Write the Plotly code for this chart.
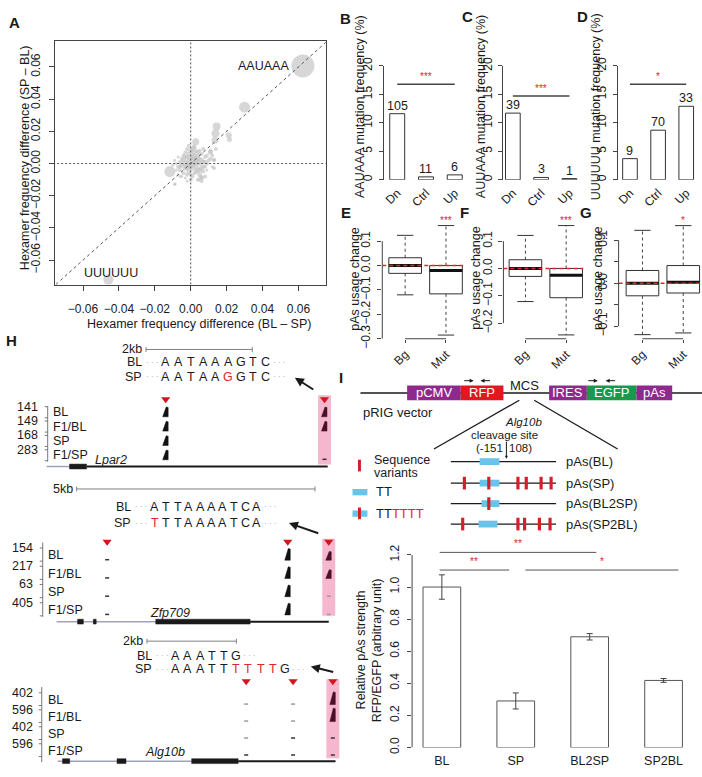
import plotly.graph_objects as go

W, H = 702, 777
FONT = "Liberation Sans, Arial, Helvetica, sans-serif"
INK = "#1a1a1a"
AXC = "#444444"
SIGRED = "#E0262B"
PTC = "rgb(198,198,198)"
PURPLE = "#8E2A8E"
BOXRED = "#E3171F"
GREEN = "#18994B"
SKY = "#6CC3EA"
VARRED = "#D21F2A"
PINK = "#F5B6CE"
MAROON = "#4B1028"
TRIRED = "#D7141E"
INTRON = "#A0A2BC"

# ======================= DATA =======================
# Panel A: hexamer frequency differences
hex_named_labels = ["AAUAAA", "UUUUUU"]
hex_named_x = [0.0625, -0.0459]
hex_named_y = [0.0606, -0.0721]
hex_named_size = [23, 10]
hex_mid_x = [0.030, 0.0144, 0.0138, 0.0135, 0.0212, 0.0216, -0.0116, 0.0028, 0.0018, 0.011, 0.013, 0.013, 0.006, 0.0046, -0.0087]
hex_mid_y = [0.035, 0.023, 0.0186, 0.0145, 0.0176, 0.015, -0.005, 0.0135, 0.0105, 0.0075, 0.0024, -0.0026, -0.0087, -0.010, -0.0127]
hex_mid_size = [11, 8, 8, 7, 6, 5, 11, 7, 5, 4, 4, 3, 4, 3, 3]
# (x, y) in thousandths, marker size
hex_cluster_milli = [
    (-7, -2, 4), (-6, 1, 4), (-6, -4, 4), (-5, 3, 4), (-5, -1, 5), (-4, -6, 4), (-4, 2, 5), (-4, 5, 4),
    (-3, -3, 5), (-3, 0, 6), (-3, 7, 4), (-2, 4, 5), (-2, -2, 6), (-2, 9, 4), (-1, 1, 6), (-1, -5, 5),
    (-1, 6, 5), (0, 3, 6), (0, -1, 6), (0, 8, 5), (0, -7, 4), (1, 2, 6), (1, -3, 5), (1, 5, 5),
    (2, 0, 6), (2, 7, 5), (2, -6, 4), (3, 3, 5), (3, -2, 5), (3, 1, 6), (4, -4, 5), (4, 5, 5),
    (4, 2, 4), (5, 0, 5), (5, -7, 5), (5, 3, 4), (6, -3, 5), (6, 6, 4), (6, -9, 5), (7, 1, 5),
    (7, -5, 4), (8, 4, 4), (8, -2, 4), (9, 0, 4), (10, 2, 4), (-9, -13, 3), (-8, 0, 3), (-9, 2, 3),
    (-10, -1, 3), (-7, 4, 3), (-6, -8, 3), (-3, -9, 3), (4, -10, 4), (6, -11, 4), (8, -8, 4), (2, 10, 4),
    (-1, 11, 4), (3, 8, 4), (9, 5, 4), (11, 7, 5), (12, 5, 4), (11, 3, 4), (12, -2, 3), (13, 2, 4),
    (11, 8, 4), (14, 9, 4), (13, -3, 3), (-5, -8, 3), (-2, -11, 3), (0, -10, 4), (5, 8, 4), (7, 9, 4),
    (-8, -4, 3), (-7, -7, 3), (-2, -7, 4), (1, -8, 4), (3, -5, 5), (5, -4, 5), (7, -2, 4), (8, 1, 4),
    (4, 7, 4), (1, 9, 4), (-3, 4, 5), (-6, -2, 4), (2, 4, 6), (-1, -2, 6), (6, 2, 5), (9, -4, 3),
]
a_ticks = [-0.06, -0.04, -0.02, 0.0, 0.02, 0.04, 0.06]

# Panels B-D: mutation frequencies (%)
mut_groups = ["Dn", "Ctrl", "Up"]
aauaaa_pct = [11.6, 0.5, 0.85]
aauaaa_count = [105, 11, 6]
auuaaa_pct = [11.7, 0.4, 0.2]
auuaaa_count = [39, 3, 1]
uuuuuu_pct = [3.7, 8.7, 12.9]
uuuuuu_count = [9, 70, 33]
mut_titles = ["AAUAAA mutation frequency (%)", "AUUAAA mutation frequency (%)", "UUUUUU mutation frequency (%)"]
mut_signif = ["***", "***", "*"]
mut_sig_level = [16.75, 14.7, 16.75]
mut_ticks = [0, 5, 10, 15, 20]

# Panels E-G: pAs usage change (box statistics)
box_groups = ["Bg", "Mut"]
e_q1 = [-0.032, -0.116]; e_med = [0.0, -0.02]; e_q3 = [0.032, 0.0]; e_lo = [-0.12, -0.285]; e_hi = [0.124, 0.164]
f_q1 = [-0.029, -0.107]; f_med = [0.0, -0.025]; f_q3 = [0.032, 0.0]; f_lo = [-0.121, -0.243]; f_hi = [0.121, 0.157]
g_q1 = [-0.0295, -0.023]; g_med = [0.0, 0.002]; g_q3 = [0.0295, 0.041]; g_lo = [-0.12, -0.116]; g_hi = [0.123, 0.134]
usage_signif = ["***", "***", "*"]
e_ticks = [-0.3, -0.2, -0.1, 0.0, 0.1]
f_ticks = [-0.2, -0.1, 0.0, 0.1]
g_ticks = [-0.1, -0.05, 0.0, 0.05, 0.1]
g_ticklabels = ["−0.1", "", "0.0", "", "0.1"]

# Panel I: reporter assay
constructs = ["BL", "SP", "BL2SP", "SP2BL"]
pas_strength = [1.0, 0.29, 0.69, 0.418]
pas_strength_err = [0.076, 0.05, 0.02, 0.012]
cmp_from = [0.97, 0.97, 2.13]
cmp_to = [3.09, 1.91, 4.2]
cmp_level = [1.216, 1.106, 1.106]
cmp_signif = ["**", "**", "*"]
i_ticks = [0.0, 0.2, 0.4, 0.6, 0.8, 1.0, 1.2]

# Panel I: vector / constructs schematic
vector_parts = ["pCMV", "RFP", "IRES", "EGFP", "pAs"]
construct_names = ["pAs(BL)", "pAs(SP)", "pAs(BL2SP)", "pAs(SP2BL)"]
construct_variants = [[], [0.129, 0.361, 0.638, 0.717, 0.858, 0.953], [0.361], [0.113, 0.638, 0.701, 0.842, 0.943]]
construct_tt = [(0.274, 0.462), (0.274, 0.462), (0.292, 0.462), (0.264, 0.443)]

# Panel H: genome tracks (positions in kb from gene start); heights: fraction of track, <0.15 = flat signal
track_names = ["BL", "F1/BL", "SP", "F1/SP"]
lpar2 = dict(name="Lpar2", reads=[141, 149, 168, 283], intron=[0, 0.43], exons=[[0.43, 0.75]], utr=[0.75, 5.29],
             sites=[2.24, 5.23], heights=[[0.68, 0.68], [0.68, 0.68], [0.68, 0.0], [0.68, 0.05]],
             bl_seq="AATAAAGTC", sp_seq="AATAAGGTC", sp_red=[5], scale_kb=2, scale_at=1.87)
zfp709 = dict(name="Zfp709", reads=[154, 217, 63, 405], intron=[0, 2.08], exons=[[0.44, 0.56], [0.77, 0.83], [2.08, 4.06]],
              utr=[4.06, 5.71], sites=[1.06, 4.85, 5.71],
              heights=[[0.05, 0.64, 0.48], [0.05, 0.64, 0.48], [0.05, 0.64, 0.03], [0.05, 0.64, 0.03]],
              bl_seq="ATTAAAATCA", sp_seq="TTTAAAATCA", sp_red=[0], scale_kb=5, scale_at=0.42)
alg10b = dict(name="Alg10b", reads=[402, 596, 402, 596], intron=[0, 3.0], exons=[[0.11, 0.27], [1.33, 1.53], [3.0, 4.04]],
              utr=[4.04, 6.22], sites=[4.22, 5.27, 6.16],
              heights=[[0.03, 0.03, 0.75], [0.03, 0.03, 0.8], [0.03, 0.05, 0.05], [0.05, 0.05, 0.05]],
              bl_seq="AAATTG", sp_seq="AAATTTTTTG", sp_red=[5, 6, 7, 8], scale_kb=2, scale_at=2.0)

# ======================= HELPERS =======================
def domx(a, b):
    return [a / W, b / W]


def domy(top, bot):
    return [1 - bot / H, 1 - top / H]


def mfmt(v, nd):
    s = f"{v:.{nd}f}"
    return s.replace("-", "−")


fig = go.Figure()
ann, shp = [], []


def T(x, y, s, size=12, color=INK, xa="center", ya="middle", angle=0, xref="x13", yref="y13"):
    ann.append(dict(x=x, y=y, xref=xref, yref=yref, text=s, showarrow=False,
                    font=dict(family=FONT, size=size, color=color),
                    xanchor=xa, yanchor=ya, textangle=angle, borderpad=0))


def seg(xs, ys, color=INK, width=1, dash="solid", ax="x13", ay="y13"):
    fig.add_trace(go.Scatter(x=xs, y=ys, mode="lines", line=dict(color=color, width=width, dash=dash),
                             xaxis=ax, yaxis=ay, hoverinfo="skip"))


def poly(xs, ys, color, ax="x13", ay="y13"):
    fig.add_trace(go.Scatter(x=xs, y=ys, mode="lines", fill="toself", fillcolor=color,
                             line=dict(color=color, width=0.5), xaxis=ax, yaxis=ay, hoverinfo="skip"))


def arrow(hx, hy, tx, ty, width=2, size=1.0):
    ann.append(dict(x=hx, y=hy, ax=tx, ay=ty, xref="x13", yref="y13", axref="x13", ayref="y13",
                    showarrow=True, arrowhead=2, arrowsize=size, arrowwidth=width, arrowcolor=INK,
                    text="", standoff=0, startstandoff=0))


def ax_base(**kw):
    d = dict(showgrid=False, zeroline=False, showline=False, ticks="", showticklabels=False, fixedrange=True)
    d.update(kw)
    return d


TICKS = dict(ticks="outside", ticklen=4, tickwidth=1, tickcolor=AXC, showticklabels=True,
             tickfont=dict(family=FONT, size=12, color=INK))
lay = {}

# ======================= PANEL A =======================
lay["xaxis"] = ax_base(domain=domx(50, 323), range=[-0.0758, 0.0752], anchor="y", showline=True, mirror=True,
                       linecolor=AXC, linewidth=1, tickvals=a_ticks, ticktext=[mfmt(v, 2) for v in a_ticks],
                       ticklabelstandoff=8, **{**TICKS, "ticklen": 5})
lay["yaxis"] = ax_base(domain=domy(33, 283), range=[-0.0755, 0.076], anchor="x", showline=True, mirror=True,
                       linecolor=AXC, linewidth=1, tickvals=a_ticks, ticktext=[mfmt(v, 2) for v in a_ticks],
                       tickangle=-90, ticklabelstandoff=4, **{**TICKS, "ticklen": 5})
cx = [p[0] / 1000 for p in hex_cluster_milli] + hex_mid_x + hex_named_x
cy = [p[1] / 1000 for p in hex_cluster_milli] + hex_mid_y + hex_named_y
cs = [p[2] for p in hex_cluster_milli] + hex_mid_size + hex_named_size
fig.add_trace(go.Scatter(x=cx, y=cy, mode="markers", marker=dict(color=PTC, size=cs, line=dict(width=0)),
                         xaxis="x", yaxis="y", hoverinfo="skip"))
seg([-0.09, 0.09], [-0.09, 0.09], color="#555", width=1, dash="3px,3px", ax="x", ay="y")
seg([0, 0], [-0.09, 0.09], color="#555", width=1, dash="2px,2px", ax="x", ay="y")
seg([-0.09, 0.09], [0, 0], color="#555", width=1, dash="2px,2px", ax="x", ay="y")
T(hex_named_x[0] - 0.007, hex_named_y[0], hex_named_labels[0], size=12.5, xa="right", xref="x", yref="y")
T(hex_named_x[1] + 0.0017, hex_named_y[1] + 0.0038, hex_named_labels[1], size=12.5, xref="x", yref="y")
T(195, 323, "Hexamer frequency difference (BL – SP)", size=12.5)
T(20, 152, "Hexamer frequency difference (SP – BL)", size=12.5, angle=-90)

# ======================= PANELS B-D =======================
bar_sets = [(aauaaa_pct, aauaaa_count), (auuaaa_pct, auuaaa_count), (uuuuuu_pct, uuuuuu_count)]
bar_geom = [dict(xl=382, xr_px=466, xr=[0.55, 3.45], title_x=357),
            dict(xl=502, xr_px=585, xr=[0.667, 3.58], title_x=479),
            dict(xl=617, xr_px=700, xr=[0.56, 3.49], title_x=595)]
for i, ((vals, cnts), g) in enumerate(zip(bar_sets, bar_geom)):
    n = 2 + i
    lay[f"xaxis{n}"] = ax_base(domain=domx(g["xl"], g["xr_px"]), range=g["xr"], anchor=f"y{n}",
                               tickvals=[1, 2, 3], ticktext=mut_groups, tickangle=-45, showticklabels=True,
                               ticklabelstandoff=3, tickfont=dict(family=FONT, size=12, color=INK))
    lay[f"yaxis{n}"] = ax_base(domain=domy(58.3, 175), range=[0, 20], anchor=f"x{n}", showline=True,
                               linecolor=AXC, linewidth=1, tickvals=mut_ticks, ticktext=[str(v) for v in mut_ticks],
                               tickangle=-90, ticklabelstandoff=2, **TICKS)
    fig.add_trace(go.Bar(x=[1, 2, 3], y=vals, width=0.52,
                         marker=dict(color="white", line=dict(color="#333", width=1)),
                         xaxis=f"x{n}", yaxis=f"y{n}", hoverinfo="skip"))
    for j in range(3):
        T(j + 1, vals[j], str(cnts[j]), size=12.5, ya="bottom", xref=f"x{n}", yref=f"y{n}")
    seg([1, 3], [mut_sig_level[i]] * 2, color="#444", width=1.5, ax=f"x{n}", ay=f"y{n}")
    T(2, mut_sig_level[i] + 1.3, mut_signif[i], size=10, color=SIGRED, xref=f"x{n}", yref=f"y{n}")
    T(g["title_x"], 100, mut_titles[i], size=12.5, angle=-90)

# ======================= PANELS E-G =======================
usage_sets = [(e_q1, e_med, e_q3, e_lo, e_hi), (f_q1, f_med, f_q3, f_lo, f_hi), (g_q1, g_med, g_q3, g_lo, g_hi)]
usage_ticks = [(e_ticks, [mfmt(v, 1) for v in e_ticks]), (f_ticks, [mfmt(v, 1) for v in f_ticks]),
               (g_ticks, g_ticklabels)]
box_geom = [dict(xl=380, xr_px=468, xr=[0.44, 2.58], yr=[-0.3, 0.192], title_x=353),
            dict(xl=502, xr_px=589, xr=[0.46, 2.58], yr=[-0.257, 0.182], title_x=475),
            dict(xl=618, xr_px=702, xr=[0.415, 2.46], yr=[-0.1295, 0.15], title_x=597)]
for i, ((q1, med, q3, lo, hi), (tv, tt), g) in enumerate(zip(usage_sets, usage_ticks, box_geom)):
    n = 5 + i
    xa, ya = f"x{n}", f"y{n}"
    lay[f"xaxis{n}"] = ax_base(domain=domx(g["xl"], g["xr_px"]), range=g["xr"], anchor=ya,
                               tickvals=[1, 2], ticktext=box_groups, tickangle=-45, ticklabelstandoff=0,
                               **{**TICKS, "ticklen": 3})
    lay[f"yaxis{n}"] = ax_base(domain=domy(215, 338), range=g["yr"], anchor=xa, tickvals=tv, ticktext=tt,
                               tickangle=-90, ticklabelstandoff=2, **TICKS)
    shp.append(dict(type="line", xref="paper", yref=ya, x0=g["xl"] / W, x1=g["xl"] / W, y0=min(tv), y1=max(tv),
                    line=dict(color=AXC, width=1)))
    shp.append(dict(type="line", xref=xa, yref="paper", x0=1, x1=2, y0=1 - 338 / H, y1=1 - 338 / H,
                    line=dict(color=AXC, width=1)))
    sx, sy, wx, wy, mx, my = [], [], [], [], [], []
    for k in range(2):
        c = k + 1
        sx += [c - 0.4, c + 0.4, c + 0.4, c - 0.4, c - 0.4, None, c - 0.2, c + 0.2, None, c - 0.2, c + 0.2, None]
        sy += [q1[k], q1[k], q3[k], q3[k], q1[k], None, hi[k], hi[k], None, lo[k], lo[k], None]
        wx += [c, c, None, c, c, None]
        wy += [q3[k], hi[k], None, q1[k], lo[k], None]
        mx += [c - 0.4, c + 0.4, None]
        my += [med[k], med[k], None]
    seg(wx, wy, color="#444", width=1, dash="3px,3px", ax=xa, ay=ya)
    seg(sx, sy, color="#333", width=1, ax=xa, ay=ya)
    seg(mx, my, color="#111", width=3, ax=xa, ay=ya)
    seg([g["xr"][0], 2.42], [0, 0], color="#E8262B", width=1.5, dash="4px,3px", ax=xa, ay=ya)
    T(2, 217, usage_signif[i], size=10, color=SIGRED, xref=xa, yref="y13")
    T(g["title_x"], 276, "pAs usage change", size=12.5, angle=-90)

# ======================= PANEL I (bars) =======================
lay["xaxis12"] = ax_base(domain=domx(410, 702), range=[0.597, 4.52], anchor="y12", tickvals=[1, 2, 3, 4],
                         ticktext=constructs, showticklabels=True, ticklabelstandoff=4,
                         tickfont=dict(family=FONT, size=12.5, color=INK))
lay["yaxis12"] = ax_base(domain=domy(545, 757), range=[0, 1.289], anchor="x12", tickvals=i_ticks,
                         ticktext=[f"{v:.1f}" for v in i_ticks], tickangle=-90, ticklabelstandoff=3, **TICKS)
shp.append(dict(type="line", xref="paper", yref="y12", x0=410 / W, x1=410 / W, y0=0, y1=1.2,
                line=dict(color=AXC, width=1)))
fig.add_trace(go.Bar(x=[1, 2, 3, 4], y=pas_strength, width=0.51,
                     marker=dict(color="white", line=dict(color="#555", width=1)),
                     error_y=dict(type="data", array=pas_strength_err, visible=True, color="#444", thickness=1, width=3),
                     xaxis="x12", yaxis="y12", hoverinfo="skip"))
for a, b, lv, s in zip(cmp_from, cmp_to, cmp_level, cmp_signif):
    seg([a, b], [lv, lv], color="#555", width=1, ax="x12", ay="y12")
    T((a + b) / 2, lv + 0.055, s, size=10, color=SIGRED, xref="x12", yref="y12")
T(358, 657, "Relative pAs strength", size=12.5, angle=-90)
T(375, 657, "RFP/EGFP (arbitrary unit)", size=12.5, angle=-90)

# ======================= OVERLAY AXIS (schematics, text) =======================
lay["xaxis13"] = ax_base(domain=[0, 1], range=[0, W], anchor="y13")
lay["yaxis13"] = ax_base(domain=[0, 1], range=[H, 0], anchor="x13")

# ---------- Panel H ----------
gene_data = [lpar2, zfp709, alg10b]
gene_geom = [
    dict(x0=42, ppk=53.5, base=418, step=14.7, gene_y=469, tri_y=400, pink_y=(396, 467), axis_x=43,
         axis_y=(407, 464), num_right=34, num_off=10.3, name_x=47, name_off=4.5, gname=(107, 462),
         scale_y=349, seq_y=(362, 377), seq_first=162, seq_step=12.6, arrow=((292, 378), (312, 391))),
    dict(x0=52, ppk=48, base=565, step=18.7, gene_y=628, tri_y=546, pink_y=(543, 622), axis_x=38,
         axis_y=(547, 623), num_right=29, num_off=12.5, name_x=42, name_off=5, gname=(166, 619),
         scale_y=492, seq_y=(510, 527), seq_first=151, seq_step=11.4, arrow=((286, 527), (317, 538))),
    dict(x0=53, ppk=45, base=713, step=17.4, gene_y=771, tri_y=689, pink_y=(687, 768), axis_x=37,
         axis_y=(695, 772), num_right=29, num_off=12, name_x=42, name_off=4.5, gname=(161, 762),
         scale_y=648, seq_y=(663, 677), seq_first=172, seq_step=12.2, arrow=((308, 674), (332, 680))),
]
blk_x, blk_y, mar_x, mar_y, dsh_x, dsh_y, lds_x, lds_y, tri_x, tri_y = [], [], [], [], [], [], [], [], [], []
for d, g in zip(gene_data, gene_geom):
    def kx(kb, g=g):
        return g["x0"] + kb * g["ppk"]
    # pink highlight
    ps = kx(d["sites"][-1])
    shp.append(dict(type="rect", xref="x13", yref="y13", x0=ps - 6.5, x1=ps + 6.5, y0=g["pink_y"][0],
                    y1=g["pink_y"][1], fillcolor=PINK, line=dict(width=0), layer="below"))
    # scale bar
    s0, s1 = kx(d["scale_at"]), kx(d["scale_at"] + d["scale_kb"])
    sy0 = g["scale_y"]
    seg([s0, s1, None, s0, s0, None, s1, s1], [sy0, sy0, None, sy0 - 2.5, sy0 + 2.5, None, sy0 - 2.5, sy0 + 2.5],
        color="#808080", width=1)
    T(s0 - 3, sy0, f"{d['scale_kb']}kb", size=12.5, xa="right")
    # sequences
    for row, (lab, sq, reds) in enumerate([("BL", d["bl_seq"], []), ("SP", d["sp_seq"], d["sp_red"])]):
        yy = g["seq_y"][row]
        f0, st = g["seq_first"], g["seq_step"]
        T(f0 - 23, yy, lab, size=12.5, xa="right")
        T(f0 - 14, yy, "· · ·", size=8, color="#999")
        for j, ch in enumerate(sq):
            T(f0 + j * st, yy, ch, size=12.5, color=SIGRED if j in reds else INK)
        T(f0 + (len(sq) - 1) * st + 13, yy, "· · ·", size=8, color="#999")
    (hx, hy), (tx, ty) = g["arrow"]
    arrow(hx, hy, tx, ty, width=2, size=0.9)
    # read-count axis and track labels
    axx = g["axis_x"]
    tx_, ty_ = [axx, axx, None], [g["axis_y"][0], g["axis_y"][1], None]
    for k in range(4):
        b = g["base"] + k * g["step"]
        top = b - g["num_off"]
        tx_ += [axx - 3, axx, None, axx - 3, axx, None]
        ty_ += [top, top, None, b + 1, b + 1, None]
        T(g["num_right"], top, str(d["reads"][k]), size=12.5, xa="right")
        T(g["name_x"], b - g["name_off"], track_names[k], size=12.5, xa="left")
    seg(tx_, ty_, color="#777", width=1)
    # gene model
    gy = g["gene_y"]
    seg([kx(d["intron"][0]), kx(d["intron"][1])], [gy, gy], color=INTRON, width=1.5)
    seg([kx(d["utr"][0]), kx(d["utr"][1])], [gy, gy], color=INK, width=2)
    ex, ey = [], []
    for a, b in d["exons"]:
        ex += [kx(a), kx(b), kx(b), kx(a), kx(a), None]
        ey += [gy - 2.5, gy - 2.5, gy + 2.5, gy + 2.5, gy - 2.5, None]
    poly(ex, ey, INK)
    T(g["gname"][0], g["gname"][1], f"<i>{d['name']}</i>", size=12.5)
    # peaks
    last = len(d["sites"]) - 1
    for j, s in enumerate(d["sites"]):
        x = kx(s)
        tri_x.append(x)
        tri_y.append(g["tri_y"])
        for k in range(4):
            b = g["base"] + k * g["step"]
            h = d["heights"][k][j]
            if h >= 0.15:
                hp = h * g["step"]
                px_ = [x - 3, x - 1.5, x + 0.5, x + 2.5, x + 2.5, x - 3, None]
                py_ = [b, b - 0.5 * hp, b - hp, b - 0.95 * hp, b, b, None]
                if j == last:
                    mar_x += px_; mar_y += py_
                else:
                    blk_x += px_; blk_y += py_
            elif h >= 0.04:
                dsh_x += [x - 2, x + 2, None]
                dsh_y += [b - 0.5, b - 0.5, None]
            elif h > 0:
                lds_x += [x - 2, x + 2, None]
                lds_y += [b - 0.5, b - 0.5, None]
poly(blk_x, blk_y, "#111111")
poly(mar_x, mar_y, MAROON)
seg(dsh_x, dsh_y, color="#333", width=1.5)
seg(lds_x, lds_y, color="#9a9a9a", width=1.5)
fig.add_trace(go.Scatter(x=tri_x, y=tri_y, mode="markers", xaxis="x13", yaxis="y13", hoverinfo="skip",
                         marker=dict(symbol="triangle-down", size=8, color=TRIRED, line=dict(width=0))))

# ---------- Panel I schematic ----------
vector_colors = [PURPLE, BOXRED, PURPLE, GREEN, PURPLE]
vector_px = [(405, 459), (459, 502), (548, 586), (586, 636), (636, 672)]
shp.append(dict(type="line", xref="x13", yref="y13", x0=358, x1=702, y0=393.5, y1=393.5, line=dict(color=INK, width=1.5)))
for name, col, (a, b) in zip(vector_parts, vector_colors, vector_px):
    shp.append(dict(type="rect", xref="x13", yref="y13", x0=a, x1=b, y0=386, y1=401, fillcolor=col, line=dict(width=0)))
    T((a + b) / 2, 393.5, name, size=13, color="white")
T(523, 386, "MCS", size=13)
for (hx, hy, tx, ty) in [(472, 381, 461, 381), (479, 381, 490, 381), (597, 381, 586, 381), (605, 381, 616, 381)]:
    arrow(hx, hy, tx, ty, width=1, size=0.8)
T(360, 414, "pRIG vector", size=13, xa="left")
shp.append(dict(type="line", xref="x13", yref="y13", x0=518, y0=401, x1=432, y1=451, line=dict(color=INK, width=1.3)))
shp.append(dict(type="line", xref="x13", yref="y13", x0=533, y0=401, x1=617, y1=451, line=dict(color=INK, width=1.3)))
T(522, 423.5, "<i>Alg10b</i>", size=11.5)
T(503, 436.5, "cleavage site", size=11.5)
T(503, 449.5, "(-151", size=11.5, xa="right")
T(507, 449.5, "108)", size=11.5, xa="left")
arrow(505, 461, 505, 442, width=1, size=0.6)
# legend
shp.append(dict(type="rect", xref="x13", yref="y13", x0=355.5, x1=358.5, y0=462, y1=474, fillcolor=VARRED, line=dict(width=0)))
T(371, 462, "Sequence", size=12.5, xa="left")
T(371, 475.5, "variants", size=12.5, xa="left")
shp.append(dict(type="rect", xref="x13", yref="y13", x0=350, x1=365, y0=492, y1=498.5, fillcolor=SKY, line=dict(width=0)))
T(373, 495, "TT", size=13, xa="left")
shp.append(dict(type="rect", xref="x13", yref="y13", x0=350, x1=365, y0=514, y1=520.5, fillcolor=SKY, line=dict(width=0)))
shp.append(dict(type="rect", xref="x13", yref="y13", x0=355.5, x1=358.5, y0=511, y1=523, fillcolor=VARRED, line=dict(width=0)))
T(373, 517, f"TT<span style='color:{SIGRED}'>TTTT</span>", size=13, xa="left")
# constructs
c0, c1 = 449, 555
cons_y = [464, 486, 507, 528]
for nm, var, (t0, t1), yy in zip(construct_names, construct_variants, construct_tt, cons_y):
    shp.append(dict(type="line", xref="x13", yref="y13", x0=c0, x1=c1, y0=yy, y1=yy, line=dict(color=INK, width=1.3)))
    shp.append(dict(type="rect", xref="x13", yref="y13", x0=c0 + t0 * (c1 - c0), x1=c0 + t1 * (c1 - c0),
                    y0=yy - 3.5, y1=yy + 3.5, fillcolor=SKY, line=dict(width=0)))
    for v in var:
        xv = c0 + v * (c1 - c0)
        shp.append(dict(type="rect", xref="x13", yref="y13", x0=xv - 1.6, x1=xv + 1.6, y0=yy - 6.5, y1=yy + 6.5,
                        fillcolor=VARRED, line=dict(width=0)))
    T(564, yy, nm, size=13, xa="left")

# ---------- panel letters ----------
for lt, x, y in [("A", 10, 14), ("B", 343, 10), ("C", 466, 8), ("D", 582, 8), ("E", 343, 209),
                 ("F", 463, 209), ("G", 585, 209), ("H", 7, 340), ("I", 338, 378)]:
    T(x, y, f"<b>{lt}</b>", size=15)

lay.update(dict(width=W, height=H, margin=dict(l=0, r=0, t=0, b=0), paper_bgcolor="white",
                plot_bgcolor="rgba(0,0,0,0)", showlegend=False, annotations=ann, shapes=shp,
                font=dict(family=FONT, size=12, color=INK)))
fig.update_layout(**lay)
fig.write_html("out.html", config={"displayModeBar": False},
               post_script="document.body.style.margin='0';document.body.style.padding='0';")
